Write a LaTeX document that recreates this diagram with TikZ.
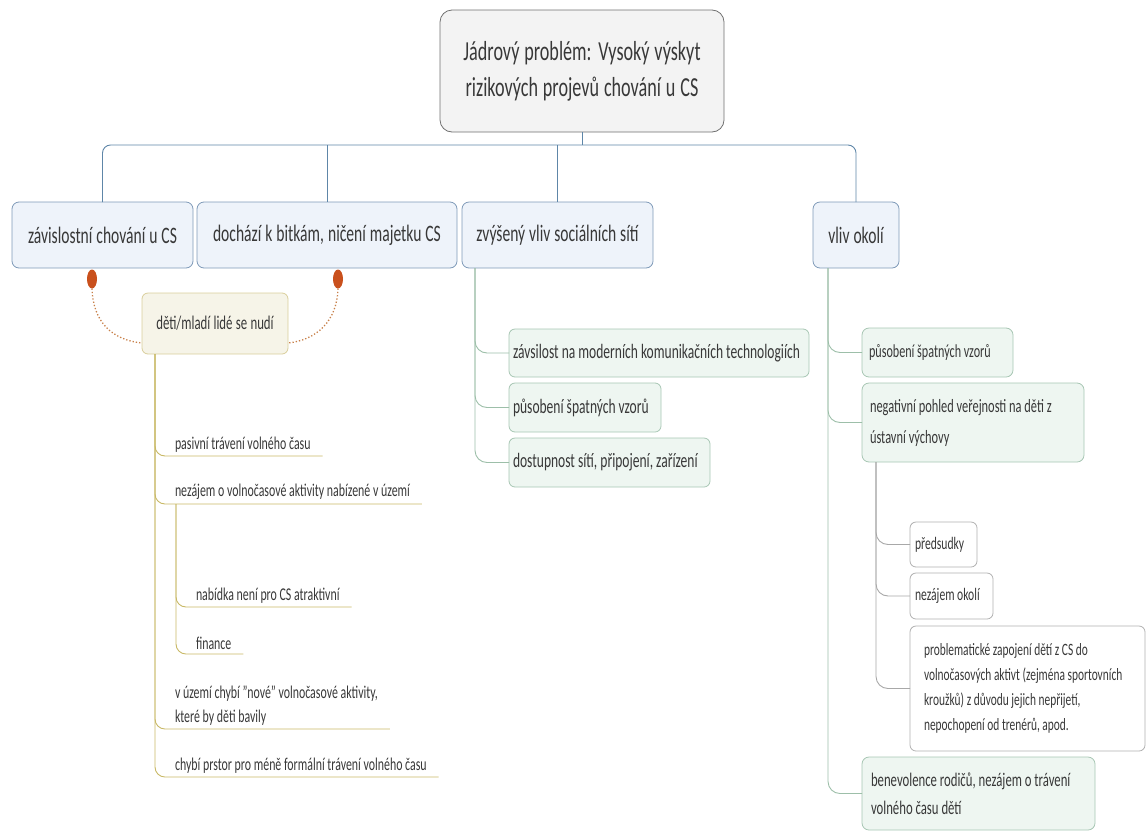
\documentclass[tikz,border=0pt]{standalone}
\usepackage{fontspec}
\setmainfont{Carlito}[FakeStretch=0.66]
\usetikzlibrary{calc,shapes.geometric}
\definecolor{txt}{HTML}{383838}
\definecolor{rootfill}{HTML}{F3F3F3}
\definecolor{rootdraw}{HTML}{707070}
\definecolor{lfill}{HTML}{EEF3FA}
\definecolor{ldraw}{HTML}{7F9AB8}
\definecolor{busline}{HTML}{5E86A8}
\definecolor{gfill}{HTML}{EEF6F1}
\definecolor{gdraw}{HTML}{A7C6B3}
\definecolor{gline}{HTML}{9DBFA9}
\definecolor{wdraw}{HTML}{B0B0B0}
\definecolor{wline}{HTML}{A8A8A8}
\definecolor{nfill}{HTML}{F6F4E8}
\definecolor{ndraw}{HTML}{D9CE9B}
\definecolor{yline}{HTML}{C8B865}
\definecolor{dotc}{HTML}{C9501C}
\definecolor{dotline}{HTML}{C8804A}
\newcommand\fsz[2]{\fontsize{#1}{#2}\selectfont}
\newcommand\sq{\char34\relax}
\begin{document}
\begin{tikzpicture}[x=1pt,y=-1pt,
  every node/.style={text=txt, outer sep=0pt, execute at begin node={\spaceskip=0pt\xspaceskip=0pt}},
  basebox/.style={draw, line width=0.8pt, anchor=north west, inner ysep=2pt},
  rootbox/.style={basebox, fill=rootfill, draw=rootdraw, rounded corners=12pt, align=center, inner xsep=4pt, font=\fsz{27.5}{36}},
  lbox/.style={basebox, fill=lfill, draw=ldraw, rounded corners=7pt, align=center, inner xsep=4pt, font=\fsz{23.6}{28}},
  gbox/.style={basebox, fill=gfill, draw=gdraw, rounded corners=6pt, align=left, font=\fsz{20.5}{26}},
  hbox/.style={basebox, fill=gfill, draw=gdraw, rounded corners=7pt, align=left, font=\fsz{18.8}{31}},
  wbox/.style={basebox, fill=white, draw=wdraw, rounded corners=6pt, align=left, font=\fsz{17.6}{25}},
  nbox/.style={basebox, fill=nfill, draw=ndraw, rounded corners=6pt, align=center, font=\fsz{19.4}{22}},
  ulnode/.style={anchor=south west, inner xsep=12pt, inner ysep=4pt, align=left, font=\fsz{18}{24}},
  bus/.style={draw=busline, line width=0.9pt},
  gl/.style={draw=gline, line width=0.9pt, rounded corners=12pt},
  wl/.style={draw=wline, line width=0.9pt, rounded corners=12pt},
  yl/.style={draw=yline, line width=0.9pt, rounded corners=10pt},
  dotnode/.style={ellipse, fill=dotc, inner sep=0pt, minimum width=10pt, minimum height=19pt},
  dotconn/.style={draw=dotline, line width=1.3pt, dotted}
]
\useasboundingbox (0,0) rectangle (1147,833);

% root and first level
\node[rootbox, text width=276pt, minimum height=122pt] (root) at (440,10) {Jádrový problém: Vysoký výskyt\\rizikových projevů chování u CS};
\node[lbox, text width=173pt, minimum height=66pt] (b1) at (12,202) {závislostní chování u CS};
\node[lbox, text width=252pt, minimum height=66pt] (b2) at (197,202) {dochází k bitkám, ničení majetku CS};
\node[lbox, text width=183pt, minimum height=66pt] (b3) at (462,202) {zvýšený vliv sociálních sítí};
\node[lbox, text width=78pt, minimum height=66pt] (b4) at (813,202) {vliv okolí};

\coordinate (busy) at (0,145);
\draw[bus] (root.south) -- (root.south |- busy);
\draw[bus, rounded corners=8pt] (b1.north) -- (b1.north |- busy) -- (b4.north |- busy) -- (b4.north);
\draw[bus] (b2.north |- busy) -- (b2.north);
\draw[bus] (b3.north |- busy) -- (b3.north);

% social networks branch
\node[gbox, text width=292pt, minimum height=48pt, inner xsep=4pt] (g1) at (509,329) {závsilost na moderních komunikačních technologiích};
\node[gbox, text width=144pt, minimum height=49pt, inner xsep=4pt] (g2) at (509,383) {působení špatných vzorů};
\node[gbox, text width=193pt, minimum height=49pt, inner xsep=4pt] (g3) at (509,438) {dostupnost sítí, připojení, zařízení};
\coordinate (t3) at (475,268);
\foreach \n in {g1,g2,g3} \draw[gl] (t3) -- (t3 |- \n.west) -- (\n.west);

% surroundings branch
\node[hbox, text width=137pt, minimum height=49pt, inner xsep=7pt, font=\fsz{18.4}{26}] (h1) at (862,328) {působení špatných vzorů};
\node[hbox, text width=206pt, minimum height=79pt, inner xsep=8pt] (h2) at (862,383) {negativní pohled veřejnosti na děti z\\ústavní výchovy};
\node[hbox, text width=215pt, minimum height=73pt, inner xsep=9pt, font=\fsz{19.3}{28}] (h3) at (862,757) {benevolence rodičů, nezájem o trávení\\volného času dětí};
\coordinate (t4) at (828,268);
\foreach \n in {h1,h2,h3} \draw[gl] (t4) -- (t4 |- \n.west) -- (\n.west);

\node[wbox, text width=57pt, minimum height=45pt, inner xsep=5pt] (w1) at (910,522) {předsudky};
\node[wbox, text width=73pt, minimum height=46pt, inner xsep=5pt] (w2) at (910,573) {nezájem okolí};
\node[wbox, text width=207pt, minimum height=125pt, inner xsep=14pt, font=\fsz{17.3}{25}] (w3) at (910,626) {problematické zapojení dětí z CS do\\volnočasových aktivt (zejména sportovních\\kroužků) z důvodu jejich nepřijetí,\\nepochopení od trenérů, apod.};
\coordinate (t5) at (876,462);
\foreach \n in {w1,w2,w3} \draw[wl] (t5) -- (t5 |- \n.west) -- (\n.west);

% bored kids
\node[nbox, text width=138pt, minimum height=61pt, inner xsep=4pt] (nudi) at (142,293) {děti/mladí lidé se nudí};
\node[dotnode] (d1) at (92,279) {};
\node[dotnode] (d2) at (338,279) {};
\draw[dotconn] (d1.south) .. controls (93,322) and (112,340) .. ($(nudi.south west)+(0,-11)$);
\draw[dotconn] (d2.south) .. controls (337,322) and (316,340) .. ($(nudi.south east)+(0,-11)$);

\node[ulnode] (p1) at (163,456) {pasivní trávení volného času};
\node[ulnode] (p2) at (163,504) {nezájem o volnočasové aktivity nabízené v území};
\node[ulnode] (p21) at (184,607) {nabídka není pro CS atraktivní};
\node[ulnode] (p22) at (184,654) {finance};
\node[ulnode] (p3) at (163,729) {v území chybí \sq nové\sq{} volnočasové aktivity,\\které by děti bavily};
\node[ulnode] (p4) at (163,777) {chybí prstor pro méně formální trávení volného času};
\coordinate (t1) at (155,354);
\foreach \n in {p1,p2,p3,p4} \draw[yl] (t1) -- (t1 |- \n.south) -- (\n.south east);
\coordinate (t2) at (176,504);
\foreach \n in {p21,p22} \draw[yl] (t2) -- (t2 |- \n.south) -- (\n.south east);
\end{tikzpicture}
\end{document}
